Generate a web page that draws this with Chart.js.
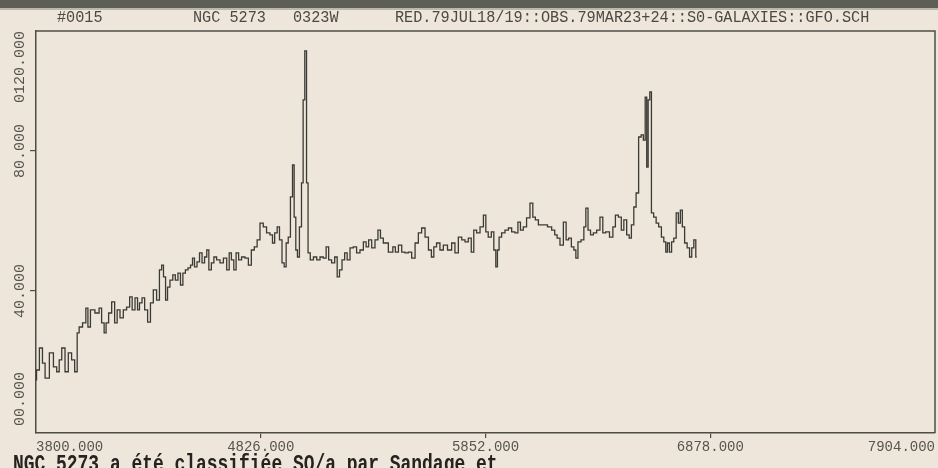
<!DOCTYPE html>
<html>
<head>
<meta charset="utf-8">
<script src="https://cdn.jsdelivr.net/npm/chart.js@4/dist/chart.umd.min.js"></script>
<style>
  html, body { margin: 0; padding: 0; background: #eee6db; }
  #wrap { width: 938px; height: 468px; position: relative; }
</style>
</head>
<body>
<div id="wrap"><canvas id="spec" width="938" height="468"></canvas></div>
<script>
// Spectrum of NGC 5273: wavelength (Å) and relative flux, one entry per plotted bin
const wavelengths = [
  3800, 3805, 3826, 3833, 3850, 3872, 3887, 3902, 3910, 3925, 3940, 3955, 3970, 3983, 3993, 4001,
  4024, 4031, 4043, 4054, 4084, 4092, 4107, 4115, 4125, 4138, 4153, 4165, 4176, 4191, 4206, 4221,
  4234, 4244, 4260, 4267, 4278, 4290, 4302, 4317, 4328, 4343, 4358, 4369, 4378, 4386, 4397, 4404,
  4419, 4430, 4442, 4454, 4465, 4476, 4488, 4500, 4511, 4518, 4529, 4541, 4552, 4564, 4575, 4584,
  4594, 4607, 4617, 4632, 4648, 4663, 4678, 4686, 4698, 4708, 4719, 4731, 4746, 4762, 4777, 4789,
  4804, 4815, 4830, 4845, 4860, 4876, 4883, 4896, 4906, 4917, 4929, 4937, 4947, 4956, 4967, 4975,
  4982, 4990, 4997, 5008, 5016, 5023, 5031, 5039, 5045, 5059, 5074, 5089, 5104, 5119, 5130, 5142,
  5157, 5170, 5180, 5191, 5203, 5215, 5226, 5241, 5256, 5271, 5287, 5302, 5312, 5325, 5340, 5355,
  5367, 5378, 5393, 5424, 5434, 5447, 5462, 5477, 5492, 5507, 5523, 5538, 5553, 5568, 5584, 5599,
  5611, 5621, 5636, 5652, 5667, 5690, 5705, 5720, 5736, 5751, 5766, 5781, 5793, 5804, 5819, 5835,
  5850, 5857, 5872, 5885, 5895, 5903, 5910, 5918, 5933, 5949, 5964, 5979, 5994, 6006, 6017, 6032,
  6047, 6063, 6073, 6086, 6101, 6124, 6146, 6162, 6174, 6184, 6200, 6215, 6225, 6238, 6250, 6261,
  6268, 6280, 6296, 6306, 6314, 6326, 6337, 6352, 6367, 6382, 6393, 6408, 6428, 6439, 6451, 6466,
  6478, 6489, 6504, 6512, 6524, 6534, 6545, 6557, 6568, 6577, 6585, 6591, 6598, 6606, 6613, 6626,
  6636, 6649, 6661, 6671, 6679, 6686, 6697, 6706, 6717, 6728, 6737, 6746, 6755, 6767, 6778, 6789,
  6798, 6808, 6816
];
const flux = [
  14.6, 17.4, 23.7, 19.4, 15.1, 22.3, 18.3, 16.9, 20.3, 23.7, 16.9, 22.3, 20.3, 16.9, 28.0, 29.7,
  30.9, 35.1, 29.7, 34.6, 33.7, 35.1, 30.9, 28.0, 30.9, 33.7, 36.9, 30.9, 34.6, 32.3, 34.6, 35.4,
  38.3, 34.6, 38.0, 34.6, 36.6, 38.0, 34.6, 31.1, 36.6, 40.3, 37.4, 46.0, 47.4, 44.0, 37.4, 41.1,
  43.1, 44.6, 43.1, 45.1, 41.7, 45.1, 46.0, 46.6, 47.4, 49.4, 46.9, 48.3, 50.9, 48.0, 49.7, 51.7,
  46.0, 48.0, 49.7, 48.9, 48.0, 49.4, 46.0, 50.9, 48.9, 46.0, 50.9, 48.9, 49.7, 49.4, 47.4, 51.7,
  52.6, 54.6, 59.4, 58.3, 56.6, 56.0, 53.7, 56.6, 58.3, 54.6, 48.0, 46.9, 53.7, 55.4, 66.9, 76.0,
  61.1, 51.7, 49.7, 58.3, 70.9, 94.6, 108.6, 70.9, 50.9, 48.9, 49.7, 48.9, 49.7, 49.4, 52.6, 48.9,
  48.0, 49.7, 44.0, 46.0, 48.9, 50.9, 48.9, 52.3, 52.6, 50.9, 51.7, 54.0, 52.6, 54.6, 52.3, 54.6,
  57.4, 55.1, 53.7, 51.1, 52.6, 51.1, 53.1, 51.1, 50.9, 51.1, 49.4, 53.7, 56.6, 58.0, 55.4, 51.7,
  49.7, 52.6, 53.7, 51.7, 53.1, 51.7, 53.7, 50.9, 55.4, 54.6, 54.0, 55.1, 51.1, 57.4, 56.6, 58.3,
  61.7, 56.9, 55.4, 56.9, 51.7, 46.9, 51.7, 55.4, 56.6, 57.4, 58.0, 56.9, 56.6, 59.7, 57.4, 58.3,
  60.9, 65.1, 61.1, 60.3, 58.9, 58.9, 58.3, 57.4, 56.0, 55.1, 53.1, 59.7, 54.6, 55.1, 52.6, 51.7,
  49.4, 54.0, 54.6, 58.3, 63.7, 57.4, 56.0, 56.6, 57.4, 61.1, 56.6, 56.9, 55.4, 58.3, 61.7, 61.1,
  57.4, 60.3, 56.0, 55.1, 58.9, 64.0, 68.0, 84.0, 84.6, 83.1, 95.4, 75.4, 94.6, 96.9, 62.3, 61.1,
  59.4, 58.3, 55.4, 54.0, 51.1, 53.7, 51.1, 54.0, 55.1, 62.3, 59.4, 63.1, 58.3, 53.7, 52.3, 49.7,
  52.3, 54.6, 49.7
];

// Axis ticks as printed by the plotter
const xTickValues = [3800, 4826, 5852, 6878, 7904];
const xTickLabels = ['3800.000', '4826.000', '5852.000', '6878.000', '7904.000'];
const yTickValues = [0, 40, 80, 120];
const yTickLabels = ['00.000', '40.000', '80.000', '0120.000'];
const yMarkValues = [40, 80];

// Header record and caption line
const headerParts = ['#0015', 'NGC 5273', '0323W', 'RED.79JUL18/19::OBS.79MAR23+24::S0-GALAXIES::GFO.SCH'];
const captionText = 'NGC 5273 a été classifiée SO/a par Sandage et';

const INK = '#4d4d46';
const MONO = '"Liberation Mono", "DejaVu Sans Mono", monospace';

// Paper background with the dark strip along the top edge
const paperPlugin = {
  id: 'paper',
  beforeDraw(chart) {
    const { ctx, width, height } = chart;
    ctx.save();
    ctx.fillStyle = '#eee6db';
    ctx.fillRect(0, 0, width, height);
    ctx.fillStyle = '#5d5e56';
    ctx.fillRect(0, 0, width, 8);
    ctx.fillStyle = 'rgba(93,94,86,0.35)';
    ctx.fillRect(0, 8, width, 2);
    ctx.restore();
  }
};

// Condensed monospace text helper
function drawCondensed(ctx, text, x, y, size, sx, weight, color) {
  ctx.save();
  ctx.translate(x, y);
  ctx.scale(sx, 1);
  ctx.font = `${weight} ${size}px ${MONO}`;
  ctx.fillStyle = color;
  ctx.textAlign = 'left';
  ctx.textBaseline = 'alphabetic';
  ctx.fillText(text, 0, 0);
  ctx.restore();
}

// Frame (top/right), rotated y labels, header and caption
const framePlugin = {
  id: 'frame',
  afterDraw(chart) {
    const { ctx, chartArea: a } = chart;
    const ys = chart.scales.y;
    ctx.save();
    ctx.strokeStyle = INK;
    ctx.lineWidth = 1.5;
    ctx.beginPath();
    ctx.moveTo(a.left, a.top);
    ctx.lineTo(a.right, a.top);
    ctx.lineTo(a.right, a.bottom);
    ctx.stroke();

    // y labels, reading upward; end labels kept inside the frame
    ctx.font = `15px ${MONO}`;
    ctx.fillStyle = '#55554e';
    ctx.textBaseline = 'middle';
    yTickValues.forEach((v, i) => {
      let py = ys.getPixelForValue(v);
      let align = 'center';
      if (py >= a.bottom - 6) { py = a.bottom - 7; align = 'left'; }
      else if (py <= a.top + 6) { py = a.top; align = 'right'; }
      ctx.save();
      ctx.translate(20, py);
      ctx.rotate(-Math.PI / 2);
      ctx.textAlign = align;
      ctx.fillText(yTickLabels[i], 0, 0);
      ctx.restore();
    });
    ctx.restore();

    const headerX = [57, 193, 293, 395];
    headerParts.forEach((t, i) => drawCondensed(ctx, t, headerX[i], 22, 16, 0.95, 'normal', '#4a4a44'));
    drawCondensed(ctx, captionText, 13, 471, 23, 0.78, 'bold', '#26221f');
  }
};

new Chart(document.getElementById('spec'), {
  type: 'line',
  data: {
    datasets: [{
      data: wavelengths.map((w, i) => ({ x: w, y: flux[i] })),
      borderColor: '#3b3b35',
      borderWidth: 1.3,
      pointRadius: 0,
      stepped: 'middle',
      fill: false
    }]
  },
  options: {
    responsive: false,
    animation: false,
    devicePixelRatio: 1,
    parsing: false,
    layout: { padding: { left: 0, top: 31, right: 3, bottom: 0 } },
    plugins: { legend: { display: false }, tooltip: { enabled: false }, title: { display: false } },
    scales: {
      x: {
        type: 'linear',
        min: 3800,
        max: 7904,
        afterBuildTicks: s => { s.ticks = xTickValues.map(v => ({ value: v })); },
        afterFit: s => { s.height = 35; },
        grid: {
          drawOnChartArea: false,
          drawTicks: true,
          tickLength: 5,
          lineWidth: 1.2,
          color: c => (c.index === 0 || c.index === xTickValues.length - 1) ? 'rgba(0,0,0,0)' : INK
        },
        border: { display: true, color: INK, width: 1.5 },
        ticks: {
          align: 'inner',
          padding: 1,
          maxRotation: 0,
          autoSkip: false,
          color: '#55554e',
          font: { family: MONO, size: 14 },
          callback: (v, i) => xTickLabels[i]
        }
      },
      y: {
        type: 'linear',
        min: -0.6,
        max: 114.3,
        afterBuildTicks: s => { s.ticks = yMarkValues.map(v => ({ value: v })); },
        afterFit: s => { s.width = 36; },
        grid: { drawOnChartArea: false, drawTicks: true, tickLength: 6, lineWidth: 1.2, color: INK },
        border: { display: true, color: INK, width: 1.5 },
        ticks: { display: false }
      }
    }
  },
  plugins: [paperPlugin, framePlugin]
});
</script>
</body>
</html>
